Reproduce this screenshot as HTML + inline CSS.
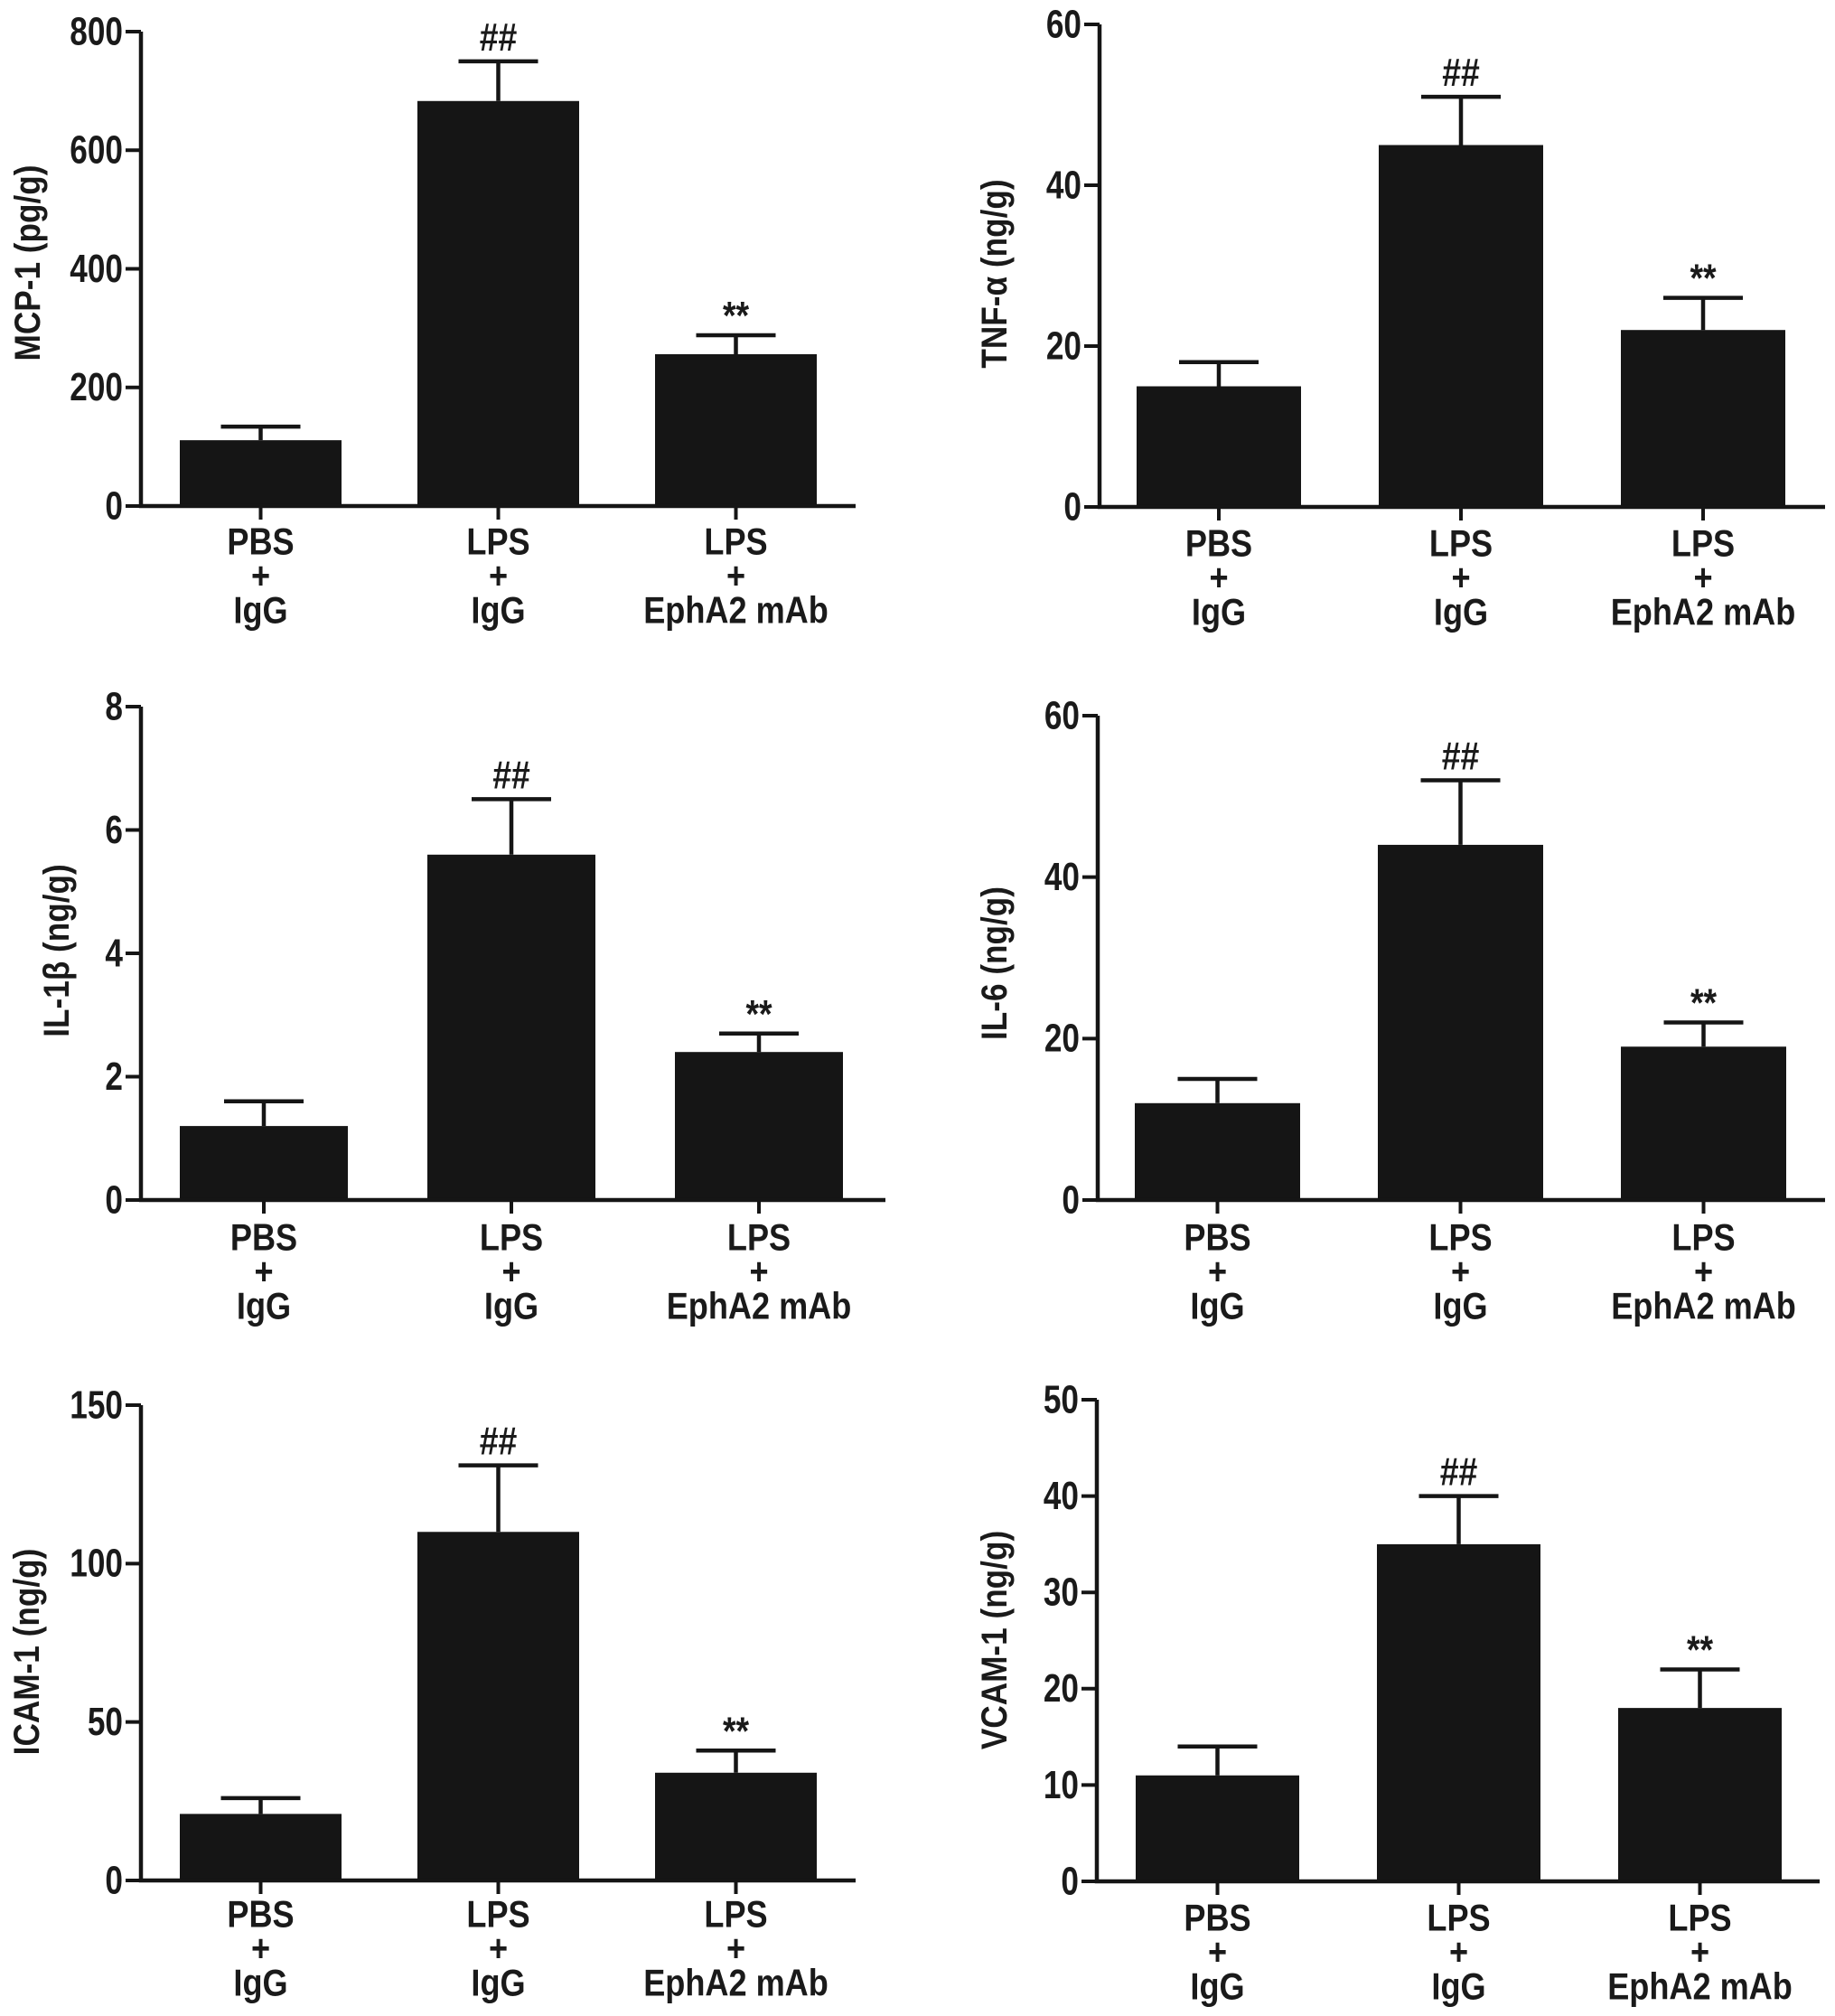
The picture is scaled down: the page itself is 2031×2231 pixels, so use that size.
<!DOCTYPE html>
<html><head><meta charset="utf-8"><style>
html,body{margin:0;padding:0;background:#fff;}
svg{display:block;}
text{font-family:"Liberation Sans",Arial,sans-serif;font-weight:bold;fill:#1a1a1a;}
</style></head><body>
<svg id="fig" width="2031" height="2231" viewBox="0 0 2031 2231" xmlns="http://www.w3.org/2000/svg"></svg>
<script>
const categories = [["PBS","+","IgG"],["LPS","+","IgG"],["LPS","+","EphA2 mAb"]];
const mcpMeans = [111, 683, 256];
const mcpErrors = [134, 750, 288];
const mcpTicks = [0, 200, 400, 600, 800];
const tnfMeans = [15, 45, 22];
const tnfErrors = [18, 51, 26];
const tnfTicks = [0, 20, 40, 60];
const il1bMeans = [1.2, 5.6, 2.4];
const il1bErrors = [1.6, 6.5, 2.7];
const il1bTicks = [0, 2, 4, 6, 8];
const il6Means = [12, 44, 19];
const il6Errors = [15, 52, 22];
const il6Ticks = [0, 20, 40, 60];
const icamMeans = [21, 110, 34];
const icamErrors = [26, 131, 41];
const icamTicks = [0, 50, 100, 150];
const vcamMeans = [11, 35, 18];
const vcamErrors = [14, 40, 22];
const vcamTicks = [0, 10, 20, 30, 40, 50];
const marks = ["", "##", "**"];

const NS = "http://www.w3.org/2000/svg";
const svg = document.getElementById("fig");
function mk(tag, attrs, parent){
  const e = document.createElementNS(NS, tag);
  for (const k in attrs) e.setAttribute(k, attrs[k]);
  (parent||svg).appendChild(e);
  return e;
}
function txt(parent, x, y, s, size, anchor, sx, rot){
  const tr = `translate(${x} ${y})` + (rot ? ` rotate(${rot})` : "") + ` scale(${sx} 1)`;
  const t = mk("text", {x:0, y:0, "text-anchor":anchor, "dominant-baseline":"central", "font-size":size, transform:tr}, parent);
  t.textContent = s;
  return t;
}
const panels = [
  {id:"mcp1", title:"MCP-1 (pg/g)", means:mcpMeans, errs:mcpErrors, ticks:mcpTicks, ax:156, axEnd:947, yTop:35, y0:560, bOff:43, bW:179, pitch:263, lblY:600, titleX:30, titleY:291},
  {id:"tnfa", title:"TNF-α (ng/g)", means:tnfMeans, errs:tnfErrors, ticks:tnfTicks, ax:1217, axEnd:2020, yTop:27, y0:561, bOff:41, bW:182, pitch:268, lblY:602, titleX:1100, titleY:303},
  {id:"il1b", title:"IL-1β (ng/g)", means:il1bMeans, errs:il1bErrors, ticks:il1bTicks, ax:156, axEnd:980, yTop:782, y0:1328, bOff:43, bW:186, pitch:274, lblY:1370, titleX:62, titleY:1052},
  {id:"il6", title:"IL-6 (ng/g)", means:il6Means, errs:il6Errors, ticks:il6Ticks, ax:1215, axEnd:2020, yTop:792, y0:1328, bOff:41, bW:183, pitch:269, lblY:1370, titleX:1100, titleY:1066},
  {id:"icam1", title:"ICAM-1 (ng/g)", means:icamMeans, errs:icamErrors, ticks:icamTicks, ax:156, axEnd:947, yTop:1555, y0:2081, bOff:43, bW:179, pitch:263, lblY:2119, titleX:29, titleY:1828},
  {id:"vcam1", title:"VCAM-1 (ng/g)", means:vcamMeans, errs:vcamErrors, ticks:vcamTicks, ax:1214, axEnd:2014, yTop:1549, y0:2082, bOff:43, bW:181, pitch:267, lblY:2123, titleX:1100, titleY:1815}
];
panels.forEach(p => {
  const g = mk("g", {});
  
  
  const max = p.ticks[p.ticks.length-1];
  const yS = v => p.y0 - (v/max)*(p.y0 - p.yTop);
  const xC = i => p.ax + p.bOff + i*p.pitch + p.bW/2;
  p.means.forEach((v,i) => {
    const cx = xC(i);
    const bar = mk("rect", {x:cx-p.bW/2, y:yS(v), width:p.bW, height:p.y0-yS(v), fill:"#151515"}, g);
    
    
    const eb = mk("path", {d:`M${cx} ${yS(v)} V${yS(p.errs[i])} M${cx-44} ${yS(p.errs[i])} H${cx+44}`, stroke:"#151515", "stroke-width":4.5, fill:"none"}, g);
    
    
    if (marks[i]) {
      const m = txt(g, cx, yS(p.errs[i]) - (marks[i]==="##"?27:22), marks[i], 44, "middle", 0.85, 0);
      
      
    }
    const tk = mk("line", {x1:cx, x2:cx, y1:p.y0, y2:p.y0+15, stroke:"#151515", "stroke-width":4}, g);
    
    
    categories[i].forEach((s,j) => {
      const t = txt(g, cx, p.lblY + j*38, s, 42, "middle", 0.86, 0);
      
      
    });
  });
  const axes = mk("path", {d:`M${p.ax} ${p.yTop} V${p.y0} H${p.axEnd}`, stroke:"#151515", "stroke-width":4.5, fill:"none"}, g);
  
  
  p.ticks.forEach(v => {
    const y = yS(v);
    const tl = mk("line", {x1:p.ax-17, x2:p.ax, y1:y, y2:y, stroke:"#151515", "stroke-width":4}, g);
    
    
    const t = txt(g, p.ax-20, y, String(v), 44, "end", 0.8, 0);
    
    
  });
  const tt = txt(g, p.titleX, p.titleY, p.title, 40, "middle", 0.88, -90);
  
  
});
</script>
</body></html>
